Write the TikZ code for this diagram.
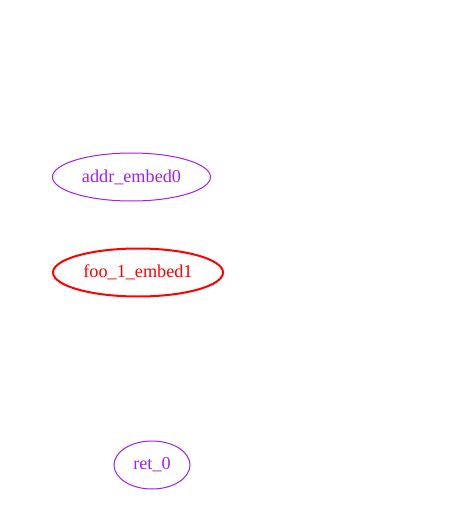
\documentclass[tikz,border=0pt]{standalone}
\usepackage{fontspec}
\setmainfont{Liberation Serif}
\usetikzlibrary{shapes.geometric}
\definecolor{gvpurple}{HTML}{A020F0}
\begin{document}
\begin{tikzpicture}[x=1pt,y=-1pt,
    var/.style={draw,ellipse,inner sep=0pt,minimum height=48pt,font=\fontsize{18.2}{20}\selectfont},
    plain/.style={var,gvpurple,line width=1pt},
    hot/.style={var,red,line width=2pt}]
    \useasboundingbox (0,0) rectangle (471,516);
    \node[plain,minimum width=158pt] (addr) at (131.5,177) {addr\_embed0};
    \node[hot,minimum width=170pt] (foo) at (138,272.5) {foo\_1\_embed1};
    \node[plain,minimum width=76pt] (ret) at (152,465) {ret\_0};
  \end{tikzpicture}
\end{document}
